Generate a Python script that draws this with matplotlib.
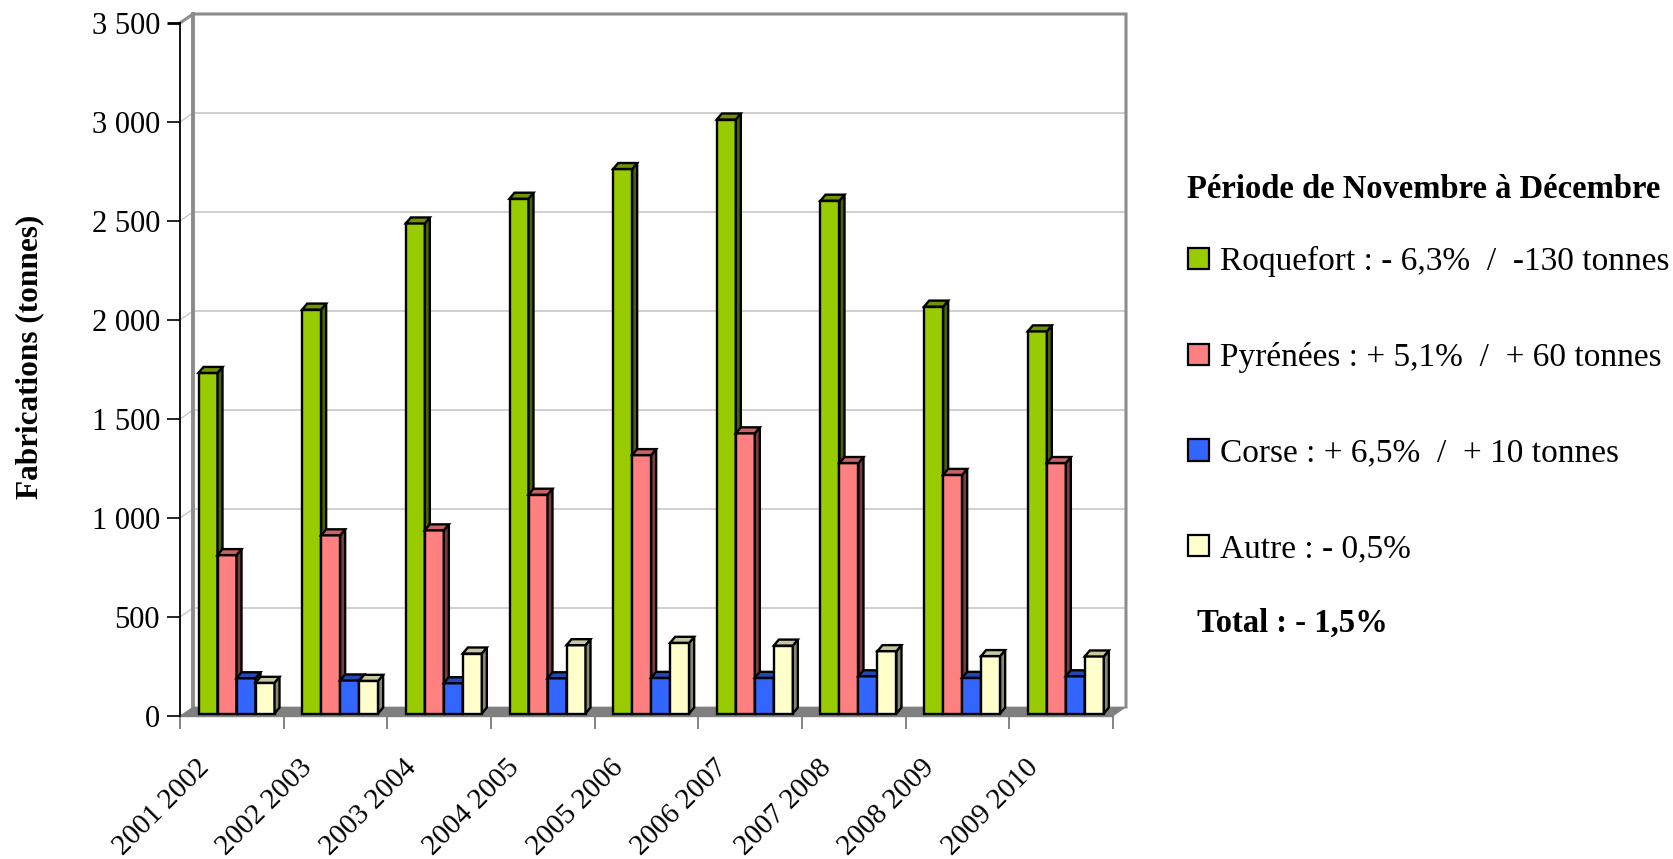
import matplotlib
matplotlib.use('Agg')
import matplotlib.pyplot as plt
from matplotlib.patches import Polygon, Rectangle
import matplotlib.transforms as mtrans
import numpy as np

# ---------------- data ----------------
categories = ['2001 2002', '2002 2003', '2003 2004', '2004 2005', '2005 2006',
              '2006 2007', '2007 2008', '2008 2009', '2009 2010']
roquefort = [1720, 2040, 2475, 2600, 2750, 3000, 2590, 2055, 1930]
pyrenees = [800, 900, 925, 1105, 1305, 1415, 1265, 1205, 1265]
corse = [178, 167, 153, 178, 180, 180, 188, 180, 188]
autre = [155, 165, 303, 345, 357, 343, 315, 290, 288]
series_labels = ['Roquefort : - 6,3%  /  -130 tonnes',
                 'Pyrénées : + 5,1%  /  + 60 tonnes',
                 'Corse : + 6,5%  /  + 10 tonnes',
                 'Autre : - 0,5%']
legend_title = 'Période de Novembre à Décembre'
total_text = 'Total : - 1,5%'
y_label = 'Fabrications (tonnes)'
yticks = [0, 500, 1000, 1500, 2000, 2500, 3000, 3500]
ytick_labels = ['0', '500', '1 000', '1 500', '2 000', '2 500', '3 000', '3 500']

front_colors = ['#99CC00', '#FF8080', '#3366FF', '#FFFFCC']
top_colors = ['#6F9400', '#C86464', '#2448B8', '#C8C8A0']
side_colors = ['#4A6300', '#7A3C3C', '#1A338A', '#8A8A6E']

plt.rcParams['font.family'] = ['Liberation Serif', 'DejaVu Serif']

W, H, DPI = 1673, 859, 100
fig = plt.figure(figsize=(W / DPI, H / DPI), dpi=DPI)
L, R, T, B = 180, 1113, 23, 716
ax = fig.add_axes([L / W, (H - B) / H, (R - L) / W, (B - T) / H])
ncat = len(categories)
ymax = 3500
ax.set_xlim(0, ncat)
ax.set_ylim(0, ymax)
px = ncat / (R - L)          # data units per pixel (x)
py = ymax / (B - T)          # data units per pixel (y)

# wall depth
wdx, wdy = 13 * px, 9 * py
wall_col = '#8C8C8C'
grid_col = '#C8C8C8'

# gridlines on back wall + left wall
for v in yticks[1:-1]:
    ax.plot([wdx, ncat + wdx], [v + wdy, v + wdy], color=grid_col, lw=1.2, zorder=1, clip_on=False)
    ax.plot([0, wdx], [v, v + wdy], color=grid_col, lw=1.0, zorder=1, clip_on=False)
# back wall outline
ax.plot([0, wdx, ncat + wdx, ncat + wdx], [ymax, ymax + wdy, ymax + wdy, wdy],
        color=wall_col, lw=2.2, zorder=1, clip_on=False, solid_joinstyle='miter')
ax.plot([wdx, wdx], [wdy, ymax + wdy], color=wall_col, lw=2.8, zorder=1, clip_on=False)
# floor
ax.add_patch(Polygon([(0, 0), (ncat, 0), (ncat + wdx, wdy), (wdx, wdy)], closed=True,
                     facecolor='#808080', edgecolor='#808080', lw=0.5, zorder=2, clip_on=False))

# bars
series = [roquefort, pyrenees, corse, autre]
bw = 19 * px
boff = 18.5 * px
bdx, bdy = 5 * px, 6 * py
base = 2.5 * py
handles = []
z = 3
for i in range(ncat):
    for j, vals in enumerate(series):
        h = vals[i]
        x0 = i + boff + j * bw
        x1 = x0 + bw
        y0 = base
        y1 = base + h
        ec = 'black'
        lw = 1.7
        front = Rectangle((x0, y0), bw, h, facecolor=front_colors[j], edgecolor=ec,
                          lw=lw, zorder=z, clip_on=False, joinstyle='miter')
        ax.add_patch(front)
        side = Polygon([(x1, y0), (x1 + bdx, y0 + bdy), (x1 + bdx, y1 + bdy), (x1, y1)],
                       closed=True, facecolor=side_colors[j], edgecolor=ec, lw=lw,
                       zorder=z, clip_on=False, joinstyle='miter')
        ax.add_patch(side)
        top = Polygon([(x0, y1), (x1, y1), (x1 + bdx, y1 + bdy), (x0 + bdx, y1 + bdy)],
                      closed=True, facecolor=top_colors[j], edgecolor=ec, lw=lw,
                      zorder=z, clip_on=False, joinstyle='miter')
        ax.add_patch(top)
        if i == 0:
            handles.append(Rectangle((0, 0), 1, 1, facecolor=front_colors[j],
                                     edgecolor='black', lw=1.6, label=series_labels[j]))
        z += 1

# axes styling
for s in ['top', 'right']:
    ax.spines[s].set_visible(False)
ax.spines['left'].set_color('black')
ax.spines['left'].set_linewidth(1.3)
ax.spines['left'].set_zorder(5)
ax.spines['bottom'].set_color('#808080')
ax.spines['bottom'].set_linewidth(1.0)
ax.set_yticks(yticks)
ax.set_yticklabels(ytick_labels)
ax.tick_params(axis='y', direction='out', length=9.4, width=1.2, color='black',
               labelsize=22, pad=5)
ax.yaxis.get_major_ticks()[-1].tick1line.set_color('#8C8C8C')
ax.yaxis.get_major_ticks()[-1].tick1line.set_markeredgewidth(2)
ax.set_xticks(np.arange(ncat + 1))
ax.set_xticklabels([])
ax.tick_params(axis='x', direction='out', length=9.5, width=1.2, color='#707070')
ax.xaxis.get_major_ticks()[0].tick1line.set_color('black')
ax.set_facecolor('none')

# category labels
off = mtrans.ScaledTranslation(-27 / DPI, -48 / DPI, fig.dpi_scale_trans)
for i, c in enumerate(categories):
    ax.text(i + 0.5, 0, c, transform=ax.get_xaxis_transform() + off,
            rotation=45, rotation_mode='anchor', ha='right', va='center', fontsize=21)

# y label
fig.text(30 / W, 1 - 357 / H, y_label, rotation=90, ha='center', va='center',
         fontsize=22.5, fontweight='bold')

# legend
fig.text(1187 / W, 1 - 189 / H, legend_title, ha='left', va='center',
         fontsize=23.5, fontweight='bold')
leg = ax.legend(handles=handles, loc='upper left',
                bbox_to_anchor=(1188 / W, 1 - 246 / H), bbox_transform=fig.transFigure,
                frameon=False, fontsize=24,
                handlelength=0.62, handleheight=0.62,
                handletextpad=0.35, labelspacing=1.95, borderpad=0, borderaxespad=0)

fig.text(1197 / W, 1 - 623 / H, total_text, ha='left', va='center',
         fontsize=23.5, fontweight='bold')

fig.savefig('out.png', dpi=DPI, facecolor='white')
